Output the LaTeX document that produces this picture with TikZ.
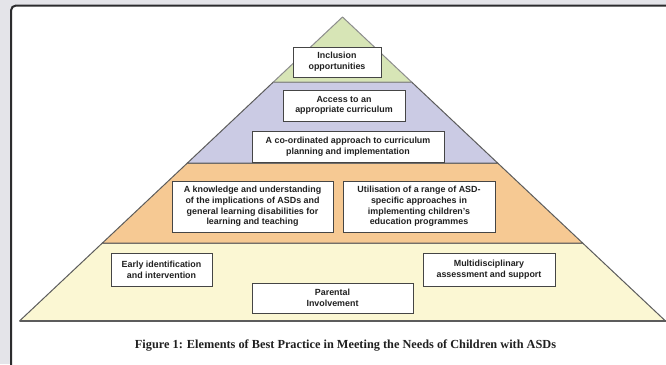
\documentclass[tikz,border=0pt]{standalone}
\usepackage{fontspec}
\setmainfont{Liberation Sans}
\newfontfamily\captionserif{Liberation Serif}
\definecolor{pagebg}{HTML}{E4E4E9}
\definecolor{framecol}{HTML}{2C2C2E}
\definecolor{tiergreen}{HTML}{D7E5B6}
\definecolor{tierlilac}{HTML}{CBCBE4}
\definecolor{tierpeach}{HTML}{F6C993}
\definecolor{tiercream}{HTML}{FBF7D3}
\definecolor{tierline}{HTML}{5C5C5C}
\definecolor{boxline}{HTML}{454545}
\definecolor{inktext}{HTML}{202020}
\begin{document}
\begin{tikzpicture}[x=1pt,y=-1pt,
  tier/.style={draw=tierline,line width=1pt,line join=round},
  tbox/.style={draw=boxline,fill=white,line width=1pt,inner sep=0pt,align=center,
    text=inktext,font=\fontsize{8.9}{10.7}\selectfont\bfseries}]
\useasboundingbox (0,0) rectangle (666,364);
\fill[pagebg] (0,0) rectangle (666,364);
% white panel with a dark rounded frame, running off the right and bottom edges
\begin{scope}
  \clip (0,0) rectangle (666,364);
  \draw[framecol,line width=2pt,rounded corners=5pt,fill=white] (11,5.5) rectangle (690,390);
\end{scope}

% pyramid corner points
\coordinate (apex) at (342.5,17);
\coordinate (gL) at (273.4,82);  \coordinate (gR) at (411.6,82);
\coordinate (pL) at (187.4,163); \coordinate (pR) at (497.6,163);
\coordinate (oL) at (102.4,243); \coordinate (oR) at (582.6,243);
\coordinate (yL) at (19.5,321);  \coordinate (yR) at (665.5,321);

% tiers
\filldraw[tier,fill=tiercream] (oL) -- (oR) -- (yR) -- (yL) -- cycle;
\filldraw[tier,fill=tierpeach] (pL) -- (pR) -- (oR) -- (oL) -- cycle;
\filldraw[tier,fill=tierlilac] (gL) -- (gR) -- (pR) -- (pL) -- cycle;
\filldraw[tier,draw=tierline!70,fill=tiergreen] (apex) -- (gR) -- (gL) -- cycle;
\draw[tierline,line width=1.6pt] (yL) -- (yR);

% element boxes
\node[tbox,minimum width=88pt,minimum height=30pt] (incl) at (337,62)
  {Inclusion\\opportunities};
\node[tbox,minimum width=122pt,minimum height=31pt] (access) at (344,105.5)
  {Access to an\\appropriate curriculum};
\node[tbox,minimum width=192pt,minimum height=31pt] (coord) at (348,146.5)
  {A co-ordinated approach to curriculum\\planning and implementation};
\node[tbox,minimum width=161pt,minimum height=51pt] (know) at (252.5,206.5)
  {A knowledge and understanding\\of the implications of ASDs and\\general learning disabilities for\\learning and teaching};
\node[tbox,minimum width=152pt,minimum height=51pt] (util) at (419,206.5)
  {Utilisation of a range of ASD-\\specific approaches in\\implementing children's\\education programmes};
\node[tbox,minimum width=101pt,minimum height=33pt] (early) at (161.5,269.5)
  {Early identification\\and intervention};
\node[tbox,minimum width=132pt,minimum height=33pt] (multi) at (489,269.5)
  {Multidisciplinary\\assessment and support};
\node[tbox,minimum width=161pt,minimum height=30pt] (parent) at (332.5,298)
  {Parental\\Involvement};

% caption
\node[inner sep=0pt,anchor=base,text=inktext,
  font=\captionserif\fontsize{12.3}{14}\selectfont\bfseries] (caption) at (345.5,348)
  {Figure 1: Elements of Best Practice in Meeting the Needs of Children with ASDs};
\end{tikzpicture}
\end{document}
